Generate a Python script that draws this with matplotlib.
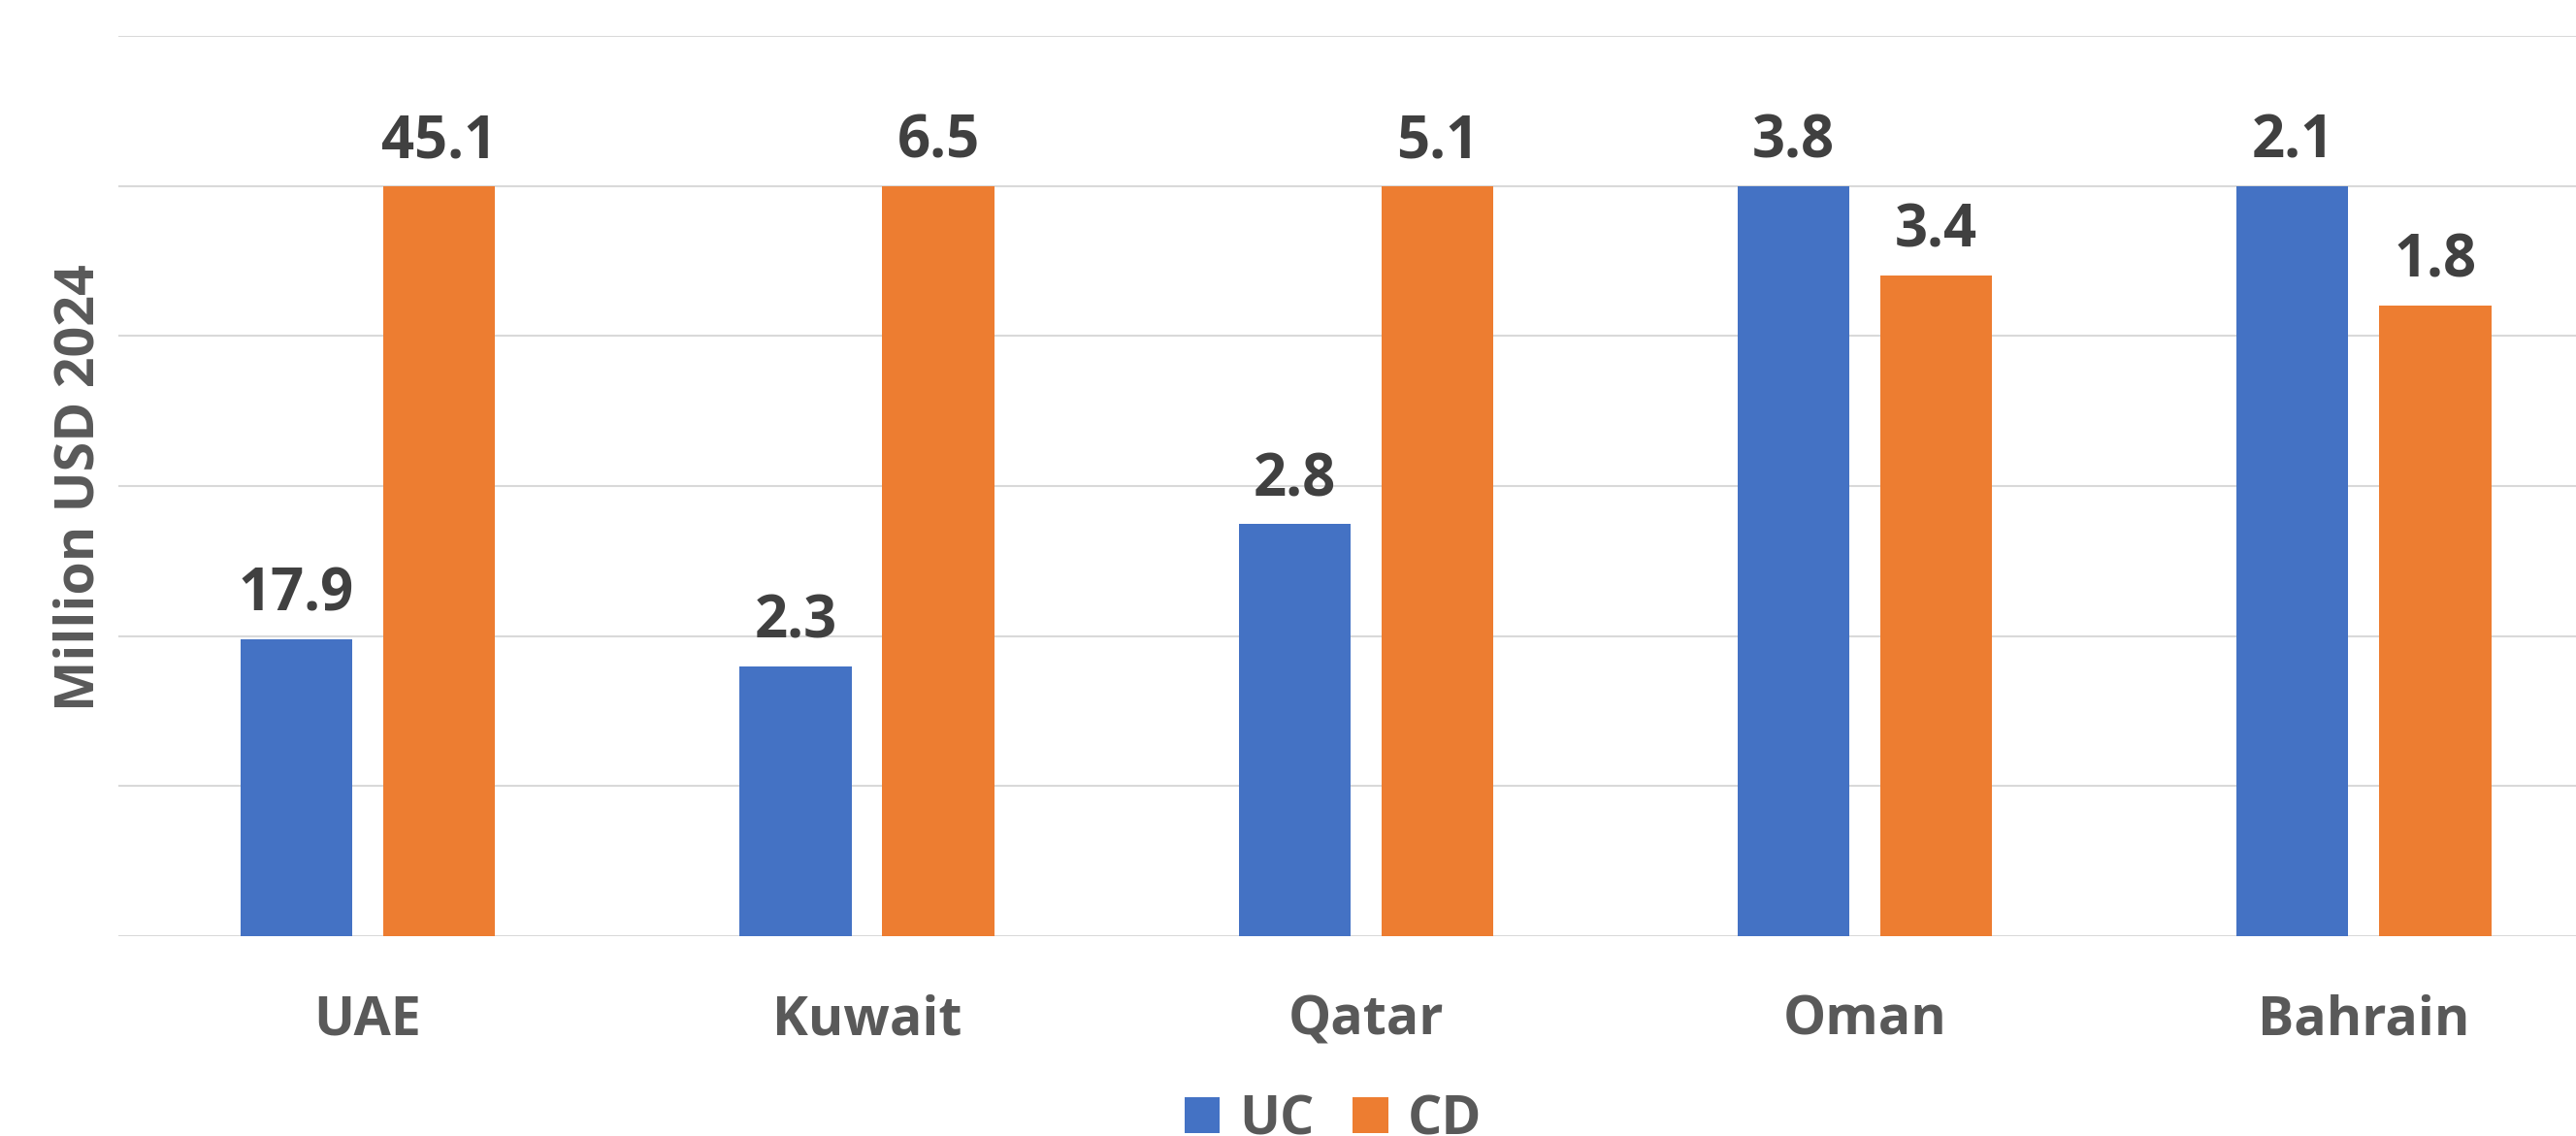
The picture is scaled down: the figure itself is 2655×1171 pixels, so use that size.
import matplotlib
matplotlib.use("Agg")
import matplotlib.pyplot as plt
import numpy as np

countries = ["UAE", "Kuwait", "Qatar", "Oman", "Bahrain"]
series_names = ["UC", "CD"]
# value labels printed on the bars (Million USD 2024)
uc_values = [17.9, 2.3, 2.8, 3.8, 2.1]
cd_values = [45.1, 6.5, 5.1, 3.4, 1.8]
# bar heights (share of each country's larger value, %)
uc_share = [39.6, 36.0, 54.9, 100.0, 100.0]
cd_share = [100.0, 100.0, 100.0, 88.1, 84.1]

BLUE = "#4472C4"
ORANGE = "#ED7D31"
GRID = "#D9D9D9"
LABEL = "#404040"
TICK = "#595959"
FONT = "Open Sans"

W, H = 2655, 1171
fig = plt.figure(figsize=(W / 100, H / 100), dpi=100)
ax = fig.add_axes([122 / W, 1 - 965 / H, 1 - 122 / W, (965 - 37) / H])

x = np.arange(len(countries))
bw = 0.224
off = 0.143
b1 = ax.bar(x - off, uc_share, bw, color=BLUE, label=series_names[0], zorder=3)
b2 = ax.bar(x + off, cd_share, bw, color=ORANGE, label=series_names[1], zorder=3)

for bars, vals in ((b1, uc_values), (b2, cd_values)):
    for rect, v in zip(bars, vals):
        ax.annotate(f"{v:.1f}", (rect.get_x() + rect.get_width() / 2, rect.get_height()),
                    xytext=(0, 10), textcoords="offset points", ha="center", va="bottom",
                    fontsize=43, fontweight="bold", color=LABEL, family=FONT)

ax.set_xlim(-0.5, 4.425)
ax.set_ylim(0, 120)
ax.set_yticks(np.arange(0, 121, 20))
ax.yaxis.grid(True, color=GRID, linewidth=1.5, zorder=0)
ax.tick_params(axis="y", length=0, labelleft=False)
ax.set_xticks(x)
ax.set_xticklabels(countries, fontsize=40, fontweight="bold", color=TICK, family=FONT)
ax.tick_params(axis="x", length=0, pad=43)
for s in ax.spines.values():
    s.set_visible(False)

fig.text(82 / W, 1 - 503 / H, "Million USD 2024", rotation=90, ha="center", va="center",
         fontsize=40, fontweight="bold", color=TICK, family=FONT)

leg = fig.legend(handles=[b1, b2], labels=series_names, loc="upper center",
                 bbox_to_anchor=(1374 / W, 1 - 1127 / H), ncol=2, frameon=False,
                 prop={"family": FONT, "weight": "bold", "size": 40},
                 handlelength=0.66, handleheight=0.66, handletextpad=0.36,
                 columnspacing=0.71, borderaxespad=0, borderpad=0)
for t in leg.get_texts():
    t.set_color(TICK)

fig.savefig("out.png", dpi=100)
